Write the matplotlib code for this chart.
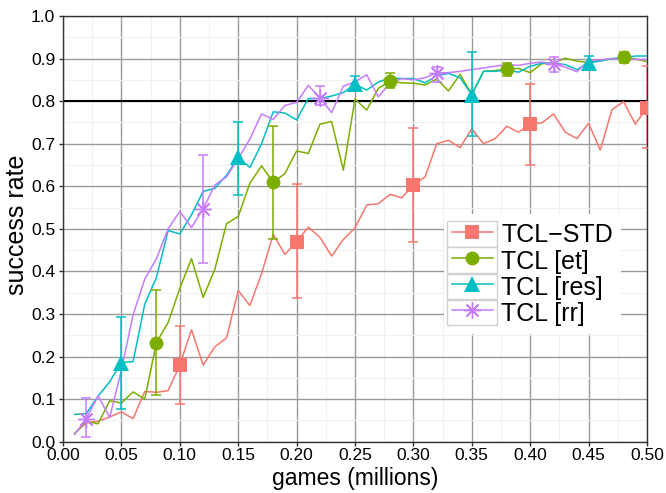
import matplotlib
matplotlib.use("Agg")
import matplotlib.pyplot as plt
from matplotlib.lines import Line2D
from matplotlib.patches import Rectangle
from matplotlib.legend_handler import HandlerLine2D
from matplotlib.ticker import MultipleLocator, FormatStrFormatter

plt.rcParams['font.family'] = ['Liberation Sans', 'DejaVu Sans']

games = [0.01, 0.02, 0.03, 0.04, 0.05, 0.06, 0.07, 0.08, 0.09, 0.10,
         0.11, 0.12, 0.13, 0.14, 0.15, 0.16, 0.17, 0.18, 0.19, 0.20,
         0.21, 0.22, 0.23, 0.24, 0.25, 0.26, 0.27, 0.28, 0.29, 0.30,
         0.31, 0.32, 0.33, 0.34, 0.35, 0.36, 0.37, 0.38, 0.39, 0.40,
         0.41, 0.42, 0.43, 0.44, 0.45, 0.46, 0.47, 0.48, 0.49, 0.50]

tcl_std = [0.020, 0.044, 0.048, 0.058, 0.070, 0.054, 0.118, 0.116, 0.120, 0.180,
           0.263, 0.180, 0.223, 0.244, 0.355, 0.320, 0.395, 0.487, 0.440, 0.470,
           0.504, 0.480, 0.436, 0.475, 0.502, 0.556, 0.559, 0.581, 0.573, 0.603,
           0.622, 0.700, 0.708, 0.691, 0.735, 0.700, 0.712, 0.741, 0.727, 0.747,
           0.749, 0.770, 0.727, 0.712, 0.748, 0.685, 0.780, 0.799, 0.746, 0.785]

tcl_et = [0.019, 0.048, 0.042, 0.096, 0.091, 0.117, 0.100, 0.233, 0.280, 0.360,
          0.430, 0.339, 0.405, 0.512, 0.529, 0.607, 0.648, 0.609, 0.630, 0.683,
          0.677, 0.746, 0.752, 0.638, 0.805, 0.779, 0.830, 0.847, 0.843, 0.842,
          0.838, 0.852, 0.824, 0.863, 0.815, 0.870, 0.872, 0.875, 0.877, 0.867,
          0.888, 0.889, 0.901, 0.894, 0.891, 0.896, 0.899, 0.903, 0.899, 0.893]

tcl_res = [0.064, 0.066, 0.107, 0.141, 0.186, 0.188, 0.323, 0.386, 0.496, 0.488,
           0.533, 0.588, 0.595, 0.626, 0.668, 0.644, 0.700, 0.775, 0.772, 0.756,
           0.806, 0.806, 0.812, 0.820, 0.840, 0.826, 0.845, 0.855, 0.853, 0.853,
           0.843, 0.860, 0.865, 0.855, 0.815, 0.870, 0.870, 0.873, 0.868, 0.882,
           0.889, 0.889, 0.886, 0.874, 0.890, 0.894, 0.900, 0.902, 0.906, 0.906]

tcl_rr = [0.017, 0.054, 0.108, 0.057, 0.168, 0.298, 0.382, 0.430, 0.500, 0.541,
          0.503, 0.547, 0.603, 0.622, 0.665, 0.711, 0.770, 0.757, 0.790, 0.797,
          0.837, 0.808, 0.773, 0.835, 0.845, 0.862, 0.810, 0.843, 0.853, 0.850,
          0.855, 0.866, 0.867, 0.870, 0.874, 0.878, 0.882, 0.886, 0.884, 0.889,
          0.892, 0.887, 0.880, 0.869, 0.896, 0.897, 0.900, 0.898, 0.898, 0.898]

# error bars: x positions, lower and upper ends
std_err_x = [0.10, 0.20, 0.30, 0.40, 0.50]
std_err_lo = [0.088, 0.338, 0.470, 0.650, 0.690]
std_err_hi = [0.272, 0.605, 0.737, 0.840, 0.883]

et_err_x = [0.08, 0.18, 0.28, 0.38, 0.48]
et_err_lo = [0.110, 0.475, 0.830, 0.860, 0.890]
et_err_hi = [0.357, 0.742, 0.865, 0.890, 0.915]

res_err_x = [0.05, 0.15, 0.25, 0.35, 0.45]
res_err_lo = [0.077, 0.580, 0.825, 0.718, 0.880]
res_err_hi = [0.293, 0.750, 0.858, 0.915, 0.905]

rr_err_x = [0.02, 0.12, 0.22, 0.32, 0.42]
rr_err_lo = [0.010, 0.420, 0.790, 0.845, 0.868]
rr_err_hi = [0.102, 0.673, 0.835, 0.880, 0.904]

labels = ["TCL\u2212STD", "TCL [et]", "TCL [res]", "TCL [rr]"]
colors = ["#F8766D", "#7CAE00", "#00BFC4", "#C77CFF"]
markers = ["s", "o", "^", (8, 2, 0)]
msizes = [10.5, 10, 12, 12]

target = 0.8


class BoxedLine(HandlerLine2D):
    # ggplot-like legend key: line + marker inside a light grey box
    def create_artists(self, legend, orig_handle, xdescent, ydescent,
                       width, height, fontsize, trans):
        arts = super().create_artists(legend, orig_handle, xdescent, ydescent,
                                      width, height, fontsize, trans)
        pad = 0.18 * fontsize
        box = Rectangle((-xdescent - pad, -ydescent), width + 2 * pad, height,
                        facecolor="white", edgecolor="#d0d0d0", lw=1.0,
                        transform=trans)
        return [box] + arts


fig = plt.figure(figsize=(6.66, 4.93), dpi=100)
# axes: left 63 px, right 647 px, top 16 px, bottom 441.7 px
ax = fig.add_axes([63 / 666, 1 - 441.7 / 493, 584 / 666, 425.7 / 493])

series = [
    (tcl_std, std_err_x, std_err_lo, std_err_hi),
    (tcl_et, et_err_x, et_err_lo, et_err_hi),
    (tcl_res, res_err_x, res_err_lo, res_err_hi),
    (tcl_rr, rr_err_x, rr_err_lo, rr_err_hi),
]

ax.axhline(target, color="black", lw=1.5, zorder=2)

handles = []
for (vals, ex, lo, hi), lab, c, m, ms in zip(series, labels, colors, markers, msizes):
    ax.plot(games, vals, color=c, lw=1.1, zorder=3)
    ey = [vals[games.index(x)] for x in ex]
    yerr = [[e - l for e, l in zip(ey, lo)], [h - e for e, h in zip(ey, hi)]]
    mew = 1.0 if m == markers[3] else 0
    ax.errorbar(ex, ey, yerr=yerr, fmt="none", ecolor=c, elinewidth=1.1,
                capsize=3.8, capthick=1.1, zorder=4)
    ax.plot(ex, ey, linestyle="none", marker=m, ms=ms, color=c, mec=c,
            mew=mew, zorder=5)
    handles.append(Line2D([], [], color=c, lw=1.1, marker=m, ms=ms, mec=c,
                          mew=mew))

ax.set_xlim(0, 0.5)
ax.set_ylim(0, 1.0)
ax.xaxis.set_major_locator(MultipleLocator(0.05))
ax.xaxis.set_minor_locator(MultipleLocator(0.025))
ax.yaxis.set_major_locator(MultipleLocator(0.1))
ax.yaxis.set_minor_locator(MultipleLocator(0.05))
ax.xaxis.set_major_formatter(FormatStrFormatter("%.2f"))
ax.yaxis.set_major_formatter(FormatStrFormatter("%.1f"))

ax.grid(True, which="major", color="#9a9a9a", lw=1.0, zorder=0)
ax.grid(True, which="minor", color="#f0f0f0", lw=0.8, zorder=0)
ax.set_axisbelow(True)

for sp in ax.spines.values():
    sp.set_color("#333333")
    sp.set_linewidth(1.0)

ax.tick_params(which="major", direction="out", length=3, width=1,
               color="#333333", labelsize=12.5, labelcolor="black", pad=2.5)
ax.tick_params(axis="x", which="major", pad=1.5)
ax.tick_params(which="minor", length=0)

ax.set_xlabel("games (millions)", fontsize=16.5)
ax.set_ylabel("success rate", fontsize=18)
ax.xaxis.set_label_coords(0.5, -0.0605)
ax.yaxis.set_label_coords(-0.058, 0.51)

leg = ax.legend(handles, labels, loc="upper left",
                bbox_to_anchor=(0.6524, 0.536), borderaxespad=0,
                fontsize=18, handlelength=1.65, handleheight=1.2,
                handletextpad=0.34, labelspacing=0, borderpad=0.3,
                numpoints=1, fancybox=False, framealpha=1,
                handler_map={h: BoxedLine(numpoints=1) for h in handles})
leg.get_frame().set_edgecolor("none")
leg.get_frame().set_facecolor("white")

fig.savefig("out.png", dpi=100)
